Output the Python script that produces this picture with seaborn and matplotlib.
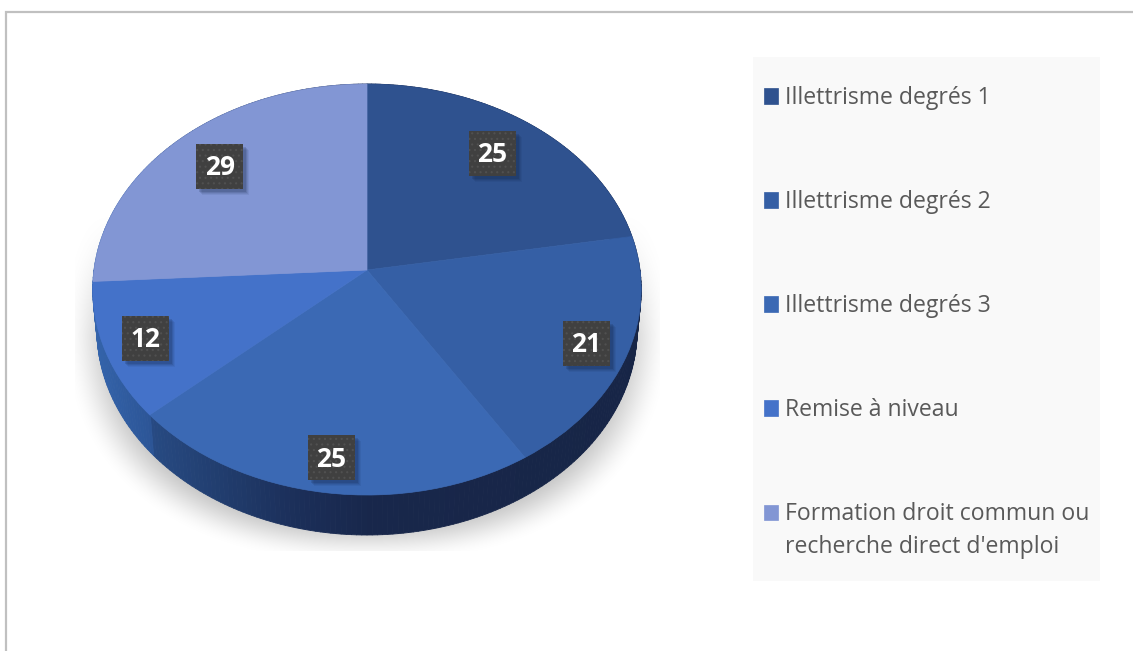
import numpy as np
import matplotlib
matplotlib.use("Agg")
import matplotlib.pyplot as plt
from matplotlib.collections import PolyCollection
from matplotlib.colors import to_rgb
from matplotlib.patches import Rectangle
from matplotlib.transforms import Transform
import seaborn as sns

categories = ["Illettrisme degrés 1", "Illettrisme degrés 2", "Illettrisme degrés 3",
              "Remise à niveau", "Formation droit commun ou\nrecherche direct d'emploi"]
values = [25, 21, 25, 12, 29]
slice_colors = ["#2f528f", "#355fa5", "#3b69b4", "#4472c9", "#8296d4"]

W, H = 1133, 651
CX, CY, RX, RY, K = 367.0, 270.0, 273.0, 203.65, 0.0949
DEPTH, WALL_SCALE = 40.0, 0.985

sns.set_theme(style="white")
plt.rcParams["font.family"] = ["Open Sans", "DejaVu Sans"]
plt.rcParams["hatch.linewidth"] = 0.8


def project(u, v):
    w = 1 + K * v
    return CX + RX * u / w, CY - RY * v / w


class Perspective(Transform):
    input_dims = output_dims = 2

    def transform_non_affine(self, values):
        pts = np.asarray(values, dtype=float)
        x, y = project(pts[:, 0], pts[:, 1])
        return np.column_stack([x, y])


fig = plt.figure(figsize=(W / 100, H / 100), dpi=100, facecolor="white")
ax = fig.add_axes([0, 0, 1, 1])

wedges, _ = ax.pie(values, colors=slice_colors, startangle=90, counterclock=False,
                   radius=1.0, center=(0, 0))
ax.set_aspect("auto")
ax.set_xlim(0, W)
ax.set_ylim(H, 0)
ax.axis("off")
persp = Perspective() + ax.transData
for wd, col in zip(wedges, slice_colors):
    wd.set_transform(persp)
    wd.set_zorder(3)
    wd.set_clip_on(False)
    wd.set_edgecolor(col)
    wd.set_linewidth(0.5)

# soft ground shadow, cut off by its rectangle as in the reference
xx, yy = np.meshgrid(np.arange(75, 660) + .5, np.arange(205, 551) + .5)
d = (np.abs((xx - CX) / 303) ** 2.3 + np.abs((yy - 325) / 238) ** 2.3) ** (1 / 2.3)
a = np.clip((1.0 - d) / 0.2, 0, 1)
a = a * a * (3 - 2 * a)
fade = np.clip((yy - 215) / 120, 0, 1)
shadow = np.zeros(xx.shape + (4,))
shadow[..., :3] = 0.75
shadow[..., 3] = a * fade
ax.imshow(shadow, extent=(75, 660, 551, 205), zorder=1, aspect="auto", interpolation="bilinear")
ax.set_xlim(0, W)
ax.set_ylim(H, 0)

# extruded rim
stops_x = [92, 150, 152, 220, 300, 370, 660]
stops_c = np.array([to_rgb(c) for c in
                    ["#3464ab", "#2c5596", "#274a82", "#213d6e", "#1b2e58", "#18274b", "#172546"]])
t = np.radians(np.arange(0, 361, 1.0))
tx, ty = project(np.sin(t), np.cos(t))
bx = CX + (tx - CX) * WALL_SCALE
by = ty + DEPTH
polys, cols = [], []
for i in range(len(t) - 1):
    polys.append([(tx[i], ty[i]), (tx[i + 1], ty[i + 1]), (bx[i + 1], by[i + 1]), (bx[i], by[i])])
    m = (tx[i] + tx[i + 1]) / 2
    cols.append([np.interp(m, stops_x, stops_c[:, k]) for k in range(3)])
ax.add_collection(PolyCollection(polys, facecolors=cols, edgecolors=cols, linewidths=0.6, zorder=2))

# value labels: dark dotted tag with a soft drop shadow
label_r = [0.775, 0.85, 0.857, 0.85, 0.78]
label_shift = [-1.5, 0, 0, 0, 0]
shadow_layers = [(6, 0.07), (5, 0.09), (4, 0.12), (3, 0.16)]
BOX_W, BOX_H = 47, 45
cum = np.cumsum([0] + values)
for i, val in enumerate(values):
    mid = np.radians((cum[i] + val / 2) / cum[-1] * 360 + label_shift[i])
    lx, ly = project(label_r[i] * np.sin(mid), label_r[i] * np.cos(mid))
    for off, alpha in shadow_layers:
        ax.add_patch(Rectangle((lx - BOX_W / 2 + off, ly - BOX_H / 2 + off), BOX_W, BOX_H,
                               fc="#102040", ec="none", alpha=alpha, zorder=5))
    ax.add_patch(Rectangle((lx - BOX_W / 2, ly - BOX_H / 2), BOX_W, BOX_H,
                           fc="#404040", ec="#505050", lw=0, hatch="...", zorder=5.5))
    ax.text(lx, ly + 1.5, str(val), color="white", fontsize=19, fontweight="bold",
            ha="center", va="center", zorder=6)

# legend panel and frame
ax.add_patch(Rectangle((753, 57), 347, 524, fc="#f9f9f9", ec="none", zorder=1))
ax.plot([6, 6, W], [H, 11.5, 11.5], color="#c0c0c0", lw=1.6, zorder=1, solid_joinstyle="miter")

leg = ax.legend(wedges, categories, loc="upper left", bbox_to_anchor=(764, 86),
                bbox_transform=ax.transData, frameon=False, borderpad=0, borderaxespad=0,
                fontsize=16.6, labelcolor="#595959", handlelength=0.6, handleheight=0.65,
                handletextpad=0.32, labelspacing=3.47)
leg.set_zorder(7)
for tx_ in leg.get_texts():
    tx_.set_linespacing(1.5)
# the two-line entry keeps its swatch beside the first line
last = leg.legend_handles[-1]
last.set_y(last.get_y() + 13.7)

fig.savefig("out.png", dpi=100, facecolor="white")
